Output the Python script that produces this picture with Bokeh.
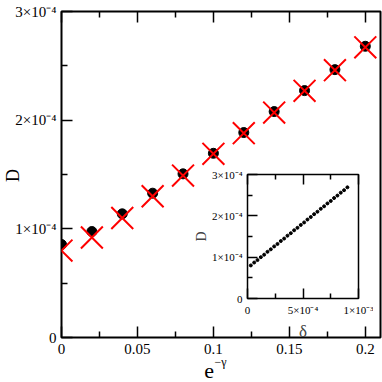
import math
from bokeh.plotting import figure
from bokeh.models import FixedTicker, LinearAxis, Label, CustomJSTickFormatter, Range1d
from bokeh.embed import file_html
from bokeh.resources import INLINE

# ---------------- data ----------------
e_gamma = [0.0, 0.02, 0.04, 0.06, 0.08, 0.10, 0.12, 0.14, 0.16, 0.18, 0.20]
D_circle = [0.856e-4, 0.975e-4, 1.138e-4, 1.328e-4, 1.506e-4, 1.695e-4,
            1.886e-4, 2.079e-4, 2.272e-4, 2.465e-4, 2.680e-4]
D_cross = [0.800e-4, 0.920e-4, 1.100e-4, 1.300e-4, 1.490e-4, 1.690e-4,
           1.880e-4, 2.070e-4, 2.270e-4, 2.460e-4, 2.670e-4]

delta = [0.3e-4, 0.6e-4, 0.9e-4, 1.2e-4, 1.5e-4, 1.8e-4, 2.1e-4, 2.4e-4, 2.7e-4, 3.0e-4,
         3.3e-4, 3.6e-4, 3.9e-4, 4.2e-4, 4.5e-4, 4.8e-4, 5.1e-4, 5.4e-4, 5.7e-4, 6.0e-4,
         6.3e-4, 6.6e-4, 6.9e-4, 7.2e-4, 7.5e-4, 7.8e-4, 8.1e-4, 8.4e-4, 8.7e-4, 9.0e-4]
D_inset = [0.80e-4, 0.87e-4, 0.93e-4, 1.00e-4, 1.06e-4, 1.13e-4, 1.19e-4, 1.26e-4, 1.32e-4, 1.39e-4,
           1.45e-4, 1.52e-4, 1.58e-4, 1.65e-4, 1.71e-4, 1.78e-4, 1.84e-4, 1.91e-4, 1.97e-4, 2.04e-4,
           2.10e-4, 2.17e-4, 2.23e-4, 2.30e-4, 2.36e-4, 2.43e-4, 2.49e-4, 2.56e-4, 2.62e-4, 2.69e-4]

main_x_major = [0.0, 0.05, 0.1, 0.15, 0.2]
main_x_minor = [0.025, 0.075, 0.125, 0.175]
main_y_major = [0.0, 1e-4, 2e-4, 3e-4]
main_y_minor = [0.5e-4, 1.5e-4, 2.5e-4]
ins_x_major = [0.0, 5e-4, 1e-3]
ins_x_minor = [2.5e-4, 7.5e-4]
ins_y_major = [0.0, 1e-4, 2e-4, 3e-4]
ins_y_minor = [0.5e-4, 1.5e-4, 2.5e-4]

FONT = "Liberation Serif"

sci_js = """
const sup = {'-':'\u207b','0':'\u2070','1':'\u00b9','2':'\u00b2','3':'\u00b3','4':'\u2074','5':'\u2075','6':'\u2076','7':'\u2077','8':'\u2078','9':'\u2079'};
if (Math.abs(tick) < 1e-12) return '0';
const e = Math.floor(Math.log10(Math.abs(tick)) + 1e-9);
const m = Math.round(tick / Math.pow(10, e));
const es = String(e).split('').map(c => sup[c]).join('');
return m + '\u00d710' + es;
"""
dec_js = """
if (Math.abs(tick) < 1e-12) return '0';
return String(Math.round(tick * 1000) / 1000);
"""


def style_axis(ax, fs, tin, mtin, standoff):
    ax.axis_line_color = None
    ax.major_tick_in = tin
    ax.major_tick_out = 0
    ax.minor_tick_in = mtin
    ax.minor_tick_out = 0
    ax.major_tick_line_color = "black"
    ax.minor_tick_line_color = "black"
    ax.major_tick_line_width = 1.5
    ax.minor_tick_line_width = 1.5
    ax.major_label_text_font = FONT
    ax.major_label_text_font_size = fs
    ax.major_label_text_color = "black"
    ax.major_label_standoff = standoff


# ---------------- main figure ----------------
p = figure(frame_width=319, frame_height=326, output_backend="svg", toolbar_location=None,
           x_range=Range1d(0, 0.21), y_range=Range1d(0, 3e-4),
           min_border_left=61, min_border_right=2, min_border_top=11, min_border_bottom=45)
p.grid.visible = False
p.outline_line_color = "black"
p.outline_line_width = 2
p.background_fill_color = "white"

p.xaxis.ticker = FixedTicker(ticks=main_x_major, minor_ticks=main_x_minor)
p.xaxis.formatter = CustomJSTickFormatter(code=dec_js)
p.yaxis.ticker = FixedTicker(ticks=main_y_major, minor_ticks=main_y_minor)
p.yaxis.formatter = CustomJSTickFormatter(code=sci_js)
style_axis(p.xaxis[0], "15px", 11, 6, 6)
style_axis(p.yaxis[0], "15px", 11, 6, 5)

top = LinearAxis(ticker=FixedTicker(ticks=main_x_major, minor_ticks=main_x_minor))
style_axis(top, "0px", 11, 6, 0)
top.formatter = CustomJSTickFormatter(code="return '';")
p.add_layout(top, "above")

p.scatter(e_gamma, D_circle, marker="circle", size=10, fill_color="black", line_color="black")
p.scatter(e_gamma, D_cross, marker="x", size=31, line_color="#ff0000", line_width=2)

# ---------------- inset ----------------
ins = figure(frame_width=111, frame_height=124, output_backend="svg", toolbar_location=None,
             x_range=Range1d(0, 1e-3), y_range=Range1d(0, 3e-4),
             min_border_left=64, min_border_right=15, min_border_top=8, min_border_bottom=37)
ins.grid.visible = False
ins.outline_line_color = "black"
ins.outline_line_width = 1.5
ins.background_fill_color = "white"
ins.border_fill_alpha = 0.0
ins.xaxis.ticker = FixedTicker(ticks=ins_x_major, minor_ticks=ins_x_minor)
ins.xaxis.formatter = CustomJSTickFormatter(code=sci_js)
ins.yaxis.ticker = FixedTicker(ticks=ins_y_major, minor_ticks=ins_y_minor)
ins.yaxis.formatter = CustomJSTickFormatter(code=sci_js)
style_axis(ins.xaxis[0], "11px", 10, 5, 5)
style_axis(ins.yaxis[0], "11px", 10, 5, 5)
ins.xaxis.axis_label = "\u03b4"
ins.xaxis.axis_label_text_font = FONT
ins.xaxis.axis_label_text_font_size = "17px"
ins.xaxis.axis_label_text_font_style = "normal"
ins.xaxis.axis_label_standoff = 3
ins.yaxis.axis_label = "D"
ins.yaxis.axis_label_text_font = FONT
ins.yaxis.axis_label_text_font_size = "14px"
ins.yaxis.axis_label_text_font_style = "normal"
ins.yaxis.axis_label_standoff = 0
itop = LinearAxis(ticker=FixedTicker(ticks=ins_x_major, minor_ticks=ins_x_minor))
style_axis(itop, "0px", 10, 5, 0)
itop.formatter = CustomJSTickFormatter(code="return '';")
ins.add_layout(itop, "above")
ins.scatter(delta, D_inset, marker="circle", size=3, fill_color="black", line_color="black")
ins.styles = {"position": "absolute", "left": "182.7px", "top": "166px", "z-index": "2"}

# ---------------- overlay for axis titles ----------------
ov = figure(width=382, height=382, output_backend="svg", toolbar_location=None,
            x_range=Range1d(0, 1), y_range=Range1d(0, 1),
            x_axis_location=None, y_axis_location=None,
            min_border=0, min_border_left=0, min_border_right=0,
            min_border_top=0, min_border_bottom=0)
ov.grid.visible = False
ov.outline_line_color = None
ov.background_fill_alpha = 0.0
ov.border_fill_alpha = 0.0
ov.add_layout(Label(x=208.7, y=12, x_units="screen", y_units="screen", text="e",
                    text_font=FONT, text_font_size="22px", text_align="center",
                    text_baseline="alphabetic", text_color="black"))
ov.add_layout(Label(x=214, y=21, x_units="screen", y_units="screen", text="\u2212\u03b3",
                    text_font=FONT, text_font_size="12px", text_align="left",
                    text_baseline="alphabetic", text_color="black"))
ov.add_layout(Label(x=12, y=207, x_units="screen", y_units="screen", text="D",
                    text_font=FONT, text_font_size="18px", text_align="center",
                    text_baseline="middle", angle=math.pi / 2, text_color="black"))
ov.styles = {"position": "absolute", "left": "0px", "top": "0px", "z-index": "3",
             "pointer-events": "none"}

open("out.html", "w").write(file_html([p, ins, ov], INLINE))
